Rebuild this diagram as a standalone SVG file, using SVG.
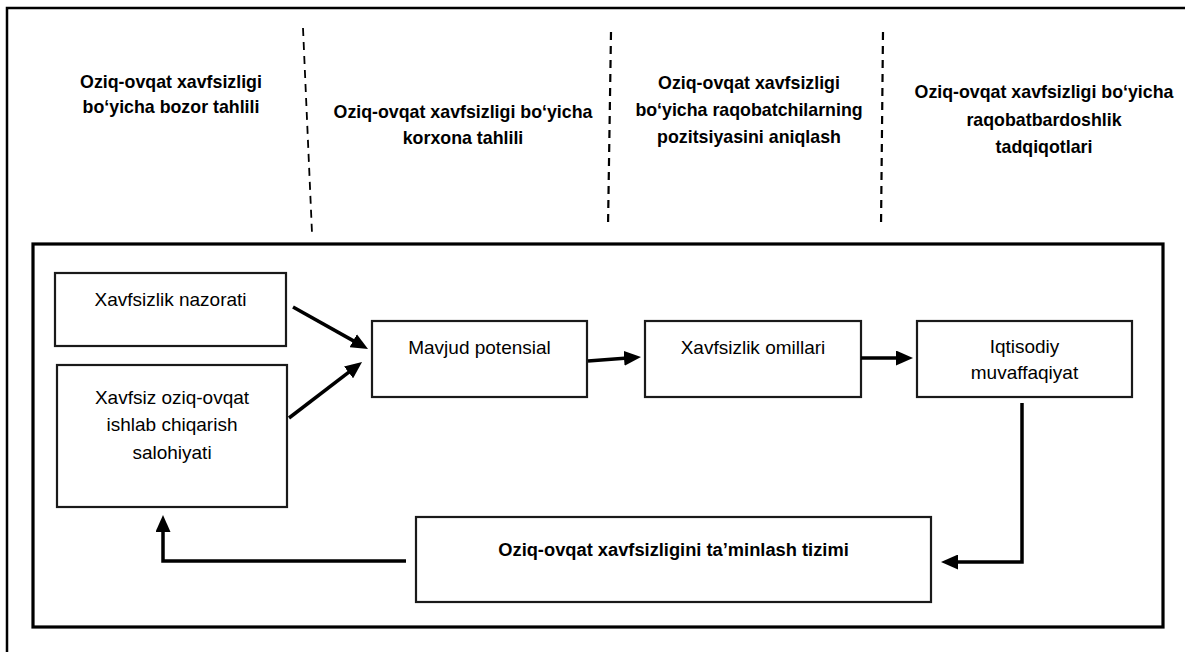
<svg xmlns="http://www.w3.org/2000/svg" width="1185" height="652" viewBox="0 0 1185 652">
<style>
.hdr{font-family:"Liberation Sans",Arial,sans-serif;font-weight:bold;font-size:17.8px;fill:#000;text-anchor:middle}
.lbl{font-family:"Liberation Sans",Arial,sans-serif;font-size:19px;fill:#000;text-anchor:middle}
.lblb{font-family:"Liberation Sans",Arial,sans-serif;font-weight:bold;font-size:18.3px;fill:#000;text-anchor:middle}
.box{fill:#fff;stroke:#1a1a1a;stroke-width:2.2}
.dash{stroke:#000;stroke-width:1.8;stroke-dasharray:8 6;fill:none}
.conn{stroke:#000;stroke-width:3.5;fill:none;marker-end:url(#ah)}
</style>
<defs>
<marker id="ah" viewBox="0 0 17 15" markerWidth="17" markerHeight="15" refX="7" refY="7.5" orient="auto" markerUnits="userSpaceOnUse">
<path d="M0,0 L17,7.5 L0,15 Z" fill="#000"/>
</marker>
</defs>
<rect width="1185" height="652" fill="#fff"/>
<g id="outer-frame">
<path d="M7,652 L7,8 L1185,8" fill="none" stroke="#000" stroke-width="2.5"/>
</g>
<g id="dividers">
<line class="dash" x1="303" y1="28" x2="312" y2="233"/>
<line class="dash" x1="611" y1="32" x2="608" y2="227" style="stroke-width:2.2"/>
<line class="dash" x1="883" y1="32" x2="881" y2="228" style="stroke-width:2.2"/>
</g>
<g id="header-1">
<text class="hdr" x="171" y="88">Oziq-ovqat xavfsizligi</text>
<text class="hdr" x="171" y="113">bo‘yicha bozor tahlili</text>
</g>
<g id="header-2">
<text class="hdr" x="463" y="118">Oziq-ovqat xavfsizligi bo‘yicha</text>
<text class="hdr" x="463" y="144">korxona tahlili</text>
</g>
<g id="header-3">
<text class="hdr" x="749" y="89">Oziq-ovqat xavfsizligi</text>
<text class="hdr" x="749" y="116">bo‘yicha raqobatchilarning</text>
<text class="hdr" x="749" y="143">pozitsiyasini aniqlash</text>
</g>
<g id="header-4">
<text class="hdr" x="1044" y="98">Oziq-ovqat xavfsizligi bo‘yicha</text>
<text class="hdr" x="1044" y="126">raqobatbardoshlik</text>
<text class="hdr" x="1044" y="153">tadqiqotlari</text>
</g>
<g id="inner-frame">
<rect x="33" y="244" width="1130" height="383" fill="none" stroke="#000" stroke-width="3.2"/>
</g>
<g id="node-xavfsizlik-nazorati">
<rect class="box" x="55" y="273" width="231" height="73"/>
<text class="lbl" x="170.5" y="306">Xavfsizlik nazorati</text>
</g>
<g id="node-xavfsiz-oziq-ovqat">
<rect class="box" x="57" y="365" width="230" height="142"/>
<text class="lbl" x="172" y="404">Xavfsiz oziq-ovqat</text>
<text class="lbl" x="172" y="431">ishlab chiqarish</text>
<text class="lbl" x="172" y="459">salohiyati</text>
</g>
<g id="node-mavjud-potensial">
<rect class="box" x="372" y="321" width="215" height="76"/>
<text class="lbl" x="479.5" y="354">Mavjud potensial</text>
</g>
<g id="node-xavfsizlik-omillari">
<rect class="box" x="645" y="321" width="216" height="76"/>
<text class="lbl" x="753" y="354">Xavfsizlik omillari</text>
</g>
<g id="node-iqtisodiy-muvaffaqiyat">
<rect class="box" x="917" y="321" width="215" height="76"/>
<text class="lbl" x="1024.5" y="353">Iqtisodiy</text>
<text class="lbl" x="1024.5" y="379">muvaffaqiyat</text>
</g>
<g id="node-taminlash-tizimi">
<rect class="box" x="416" y="517" width="515" height="85"/>
<text class="lblb" x="673.5" y="556">Oziq-ovqat xavfsizligini ta’minlash tizimi</text>
</g>
<g id="connectors">
<line class="conn" x1="293" y1="307" x2="359.3" y2="344.1"/>
<line class="conn" x1="289" y1="418" x2="354.1" y2="368.1"/>
<line class="conn" x1="588" y1="361" x2="631" y2="357.8"/>
<line class="conn" x1="861" y1="358" x2="903" y2="358"/>
<polyline class="conn" points="1022,403 1022,562 951,562"/>
<polyline class="conn" points="406,561 163,561 163,525"/>
</g>
</svg>
